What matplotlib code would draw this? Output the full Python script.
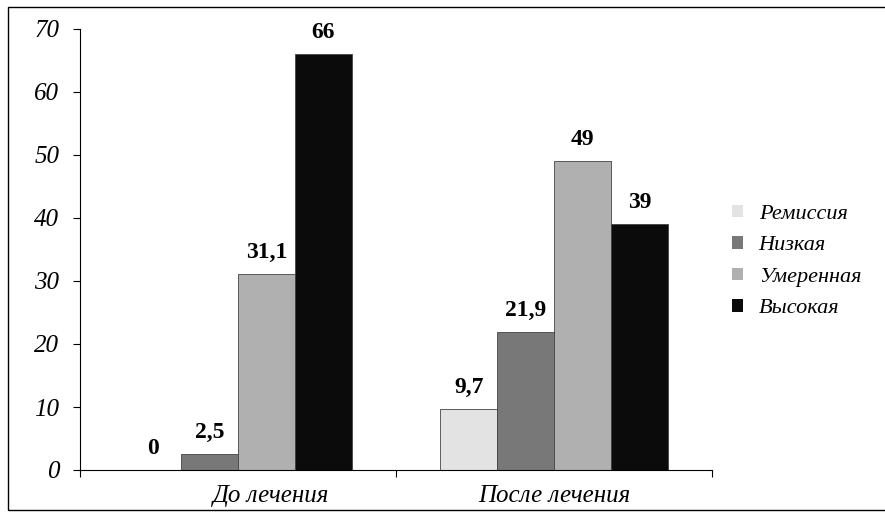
import matplotlib.pyplot as plt
from matplotlib.patches import Rectangle
from matplotlib.transforms import ScaledTranslation
import numpy as np

plt.rcParams['font.family'] = ['Liberation Serif', 'DejaVu Serif']

groups = ["До лечения", "После лечения"]
series = ["Ремиссия", "Низкая", "Умеренная", "Высокая"]
remissiya = [0, 9.7]
nizkaya = [2.5, 21.9]
umerennaya = [31.1, 49]
vysokaya = [66, 39]
colors = ["#e3e3e3", "#787878", "#b0b0b0", "#0b0b0b"]

values = [remissiya, nizkaya, umerennaya, vysokaya]

fig = plt.figure(figsize=(8.85, 5.17), dpi=100)
ax = fig.add_axes([80 / 885, 1 - 470 / 517, (712 - 80) / 885, (470 - 29) / 517])

# рамка вокруг всего рисунка
fig.patches.append(Rectangle((8 / 885, 7 / 517), 1.0, 1 - 14 / 517,
                             transform=fig.transFigure, fill=False,
                             edgecolor="black", linewidth=1.0))

x = np.arange(len(groups))
w = 0.18
for i, (name, vals) in enumerate(zip(series, values)):
    pos = x + (i - 1.5) * w
    ax.bar(pos, vals, width=w, color=colors[i], edgecolor="#444444",
           linewidth=0.6, label=name)
    for p, v in zip(pos, vals):
        txt = ("%g" % v).replace(".", ",")
        ax.text(p, v + 1.8, txt, ha="center", va="bottom",
                fontsize=17, fontweight="bold")

ax.set_xlim(-0.5, 1.5)
ax.set_ylim(0, 70)
ax.set_yticks(range(0, 71, 10))
ax.tick_params(axis="y", labelsize=18, length=5, pad=10, direction="out")
for lab in ax.get_yticklabels():
    lab.set_fontstyle("italic")

ax.set_xticks([-0.5, 0.5, 1.5])
ax.set_xticklabels([])
ax.tick_params(axis="x", which="major", length=5, direction="out")
ax.set_xticks(x, minor=True)
ax.set_xticklabels(groups, minor=True, fontsize=18, fontstyle="italic")
ax.tick_params(axis="x", which="minor", length=0, pad=11)
# в оригинале первая подпись сдвинута вправо
first = ax.get_xticklabels(minor=True)[0]
first.set_transform(first.get_transform() + ScaledTranslation(0.33, 0, fig.dpi_scale_trans))

ax.spines["top"].set_visible(False)
ax.spines["right"].set_visible(False)

leg = ax.legend(loc="center left", bbox_to_anchor=(1.0, 0.473), frameon=False,
                prop={"size": 16, "style": "italic"}, handlelength=0.5,
                handleheight=0.5, handletextpad=0.7, labelspacing=0.55)
for h in leg.legend_handles:
    h.set_edgecolor("none")

fig.savefig("out.png", dpi=100)
